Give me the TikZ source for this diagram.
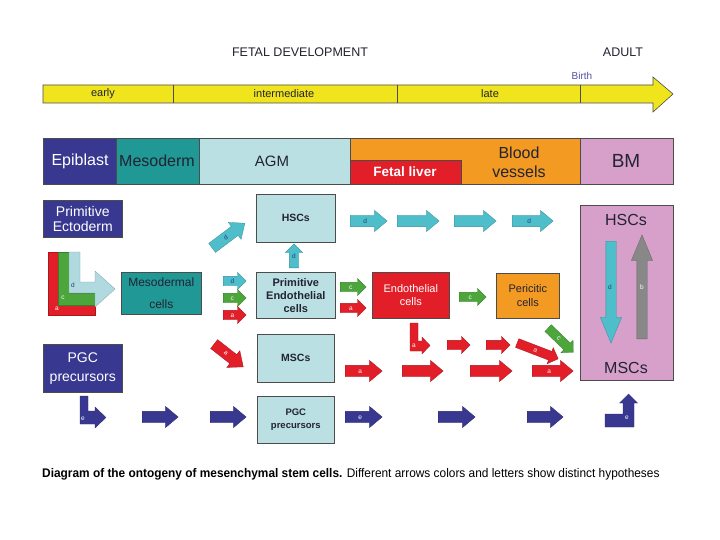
\documentclass[tikz,border=0pt]{standalone}
\usepackage{fontspec}
\setmainfont{Liberation Sans}
\newfontfamily\capfont[FakeStretch=0.95]{Liberation Sans}
\usetikzlibrary{shapes.arrows}
\definecolor{epiblue}{RGB}{56,56,145}
\definecolor{mesoteal}{RGB}{32,152,150}
\definecolor{agmblue}{RGB}{186,224,228}
\definecolor{lblue}{RGB}{176,218,224}
\definecolor{cyanarr}{RGB}{78,190,202}
\definecolor{redarr}{RGB}{226,30,40}
\definecolor{greenarr}{RGB}{76,166,60}
\definecolor{orangebox}{RGB}{242,154,34}
\definecolor{pinkbox}{RGB}{214,160,202}
\definecolor{grayarr}{RGB}{136,136,136}
\definecolor{timeyellow}{RGB}{240,228,28}
\definecolor{textdark}{RGB}{35,35,50}
\definecolor{letterblue}{RGB}{30,60,120}
\definecolor{birthblue}{RGB}{80,80,160}
\newcommand{\fs}[2]{\fontsize{#1}{#2}\selectfont}

\begin{document}
\begin{tikzpicture}[x=1pt,y=-1pt,
	box/.style={draw=black!70,line width=0.6pt,inner sep=1pt,align=center,anchor=north west,text=textdark},
	band/.style={draw=black!70,line width=0.6pt},
	blk/.style={single arrow,draw=#1!75!black,fill=#1,line width=0.3pt,single arrow head indent=0pt,inner xsep=1pt,text height=4pt,text depth=0pt,font=\fs{6.5}{7},text=white,anchor=tail},
	big/.style={inner ysep=3.5pt,single arrow head extend=5pt,single arrow tip angle=80},
	small/.style={inner ysep=2.5pt,single arrow head extend=4pt,single arrow tip angle=90},
	tall/.style={inner ysep=3pt,single arrow head extend=5.5pt,single arrow tip angle=45},
	lshape/.style={fill=#1,draw=#1!75!black,line width=0.3pt},
	lbl/.style={font=\fs{6.5}{7},inner sep=0pt}
	]
	\useasboundingbox (0,0) rectangle (720,540);
	\fill[white] (0,0) rectangle (720,540);

	\node[font=\fs{12.5}{14},text=textdark] (fetal) at (300,52) {FETAL DEVELOPMENT};
	\node[font=\fs{12.5}{14},text=textdark] (adult) at (623,52) {ADULT};
	\node[font=\fs{10}{12},text=birthblue] (birth) at (582,76) {Birth};
	\filldraw[fill=timeyellow,draw=black!70,line width=0.6pt] (43,85) -- (653,85) -- (653,77) -- (673,94) -- (653,112) -- (653,103) -- (43,103) -- cycle;
	\draw[black!70,line width=0.6pt] (173,85) -- (173,103) (397,85) -- (397,103) (580,85) -- (580,103);
	\node[font=\fs{11}{12},text=textdark] (early) at (103,94) {early};
	\node[font=\fs{11}{12},text=textdark] (inter) at (284,94) {intermediate};
	\node[font=\fs{11}{12},text=textdark] (late) at (490,94) {late};

	\filldraw[band,fill=epiblue] (43,138) rectangle (116,184);
	\filldraw[band,fill=mesoteal] (116,138) rectangle (199,184);
	\filldraw[band,fill=agmblue] (199,138) rectangle (350,184);
	\filldraw[band,fill=orangebox] (350,138) rectangle (580,184);
	\filldraw[band,fill=redarr] (350,160) rectangle (461,184);
	\filldraw[band,fill=pinkbox] (580,138) rectangle (673,184);
	\node[font=\fs{16}{18},text=white] (epi) at (80,161) {Epiblast};
	\node[font=\fs{16}{18},text=textdark] (meso) at (157,161) {Mesoderm};
	\node[font=\fs{15}{18},text=textdark] (agm) at (272,161) {AGM};
	\node[font=\bfseries\fs{13.5}{16},text=white] (liver) at (405,172) {Fetal liver};
	\node[font=\fs{16}{19},text=textdark,align=center] (blood) at (519,162) {Blood\\vessels};
	\node[font=\fs{19}{20},text=textdark] (bm) at (626,161) {BM};

	\node[box,fill=epiblue,text=white,minimum width=79,minimum height=37,font=\fs{14}{15}] (pecto) at (43,200) {Primitive\\Ectoderm};
	\node[box,fill=epiblue,text=white,minimum width=79,minimum height=48,font=\fs{14}{19}] (pgc) at (43,344) {PGC\\precursors};
	\node[box,fill=mesoteal,minimum width=80,minimum height=42,font=\fs{12}{22}] (mesoc) at (121,272) {Mesodermal\\cells};
	\node[box,fill=agmblue,minimum width=79,minimum height=48,font=\bfseries\fs{10.5}{12}] (hsc) at (256,194) {HSCs};
	\node[box,fill=agmblue,minimum width=79,minimum height=46,font=\bfseries\fs{11}{13}] (pendo) at (256,272) {Primitive\\Endothelial\\cells};
	\node[box,fill=agmblue,minimum width=77,minimum height=48,font=\bfseries\fs{10.5}{12}] (msc) at (257,334) {MSCs};
	\node[box,fill=agmblue,minimum width=77,minimum height=47,font=\bfseries\fs{9.5}{13}] (pgcb) at (257,396) {PGC\\precursors};
	\node[box,fill=redarr,text=white,minimum width=77,minimum height=46,font=\fs{11}{13}] (endo) at (372,272) {Endothelial\\cells};
	\node[box,fill=orangebox,minimum width=63,minimum height=45,font=\fs{11}{14}] (peri) at (496,273) {Pericitic\\cells};
	\node[box,fill=pinkbox,minimum width=93,minimum height=175] (bmbox) at (580,205) {};
	\node[font=\fs{16}{18},text=textdark] (bmhsc) at (626,220) {HSCs};
	\node[font=\fs{16}{18},text=textdark] (bmmsc) at (626,368) {MSCs};

	\filldraw[lshape=redarr] (48,252) -- (58,252) -- (58,305) -- (95,305) -- (95,315) -- (48,315) -- cycle;
	\filldraw[lshape=greenarr] (58,252) -- (69,252) -- (69,293) -- (95,293) -- (95,305) -- (58,305) -- cycle;
	\filldraw[lshape=lblue] (69,252) -- (80,252) -- (80,282) -- (95,282) -- (95,271) -- (115,289) -- (95,307) -- (95,293) -- (69,293) -- cycle;
	\node[lbl,text=letterblue] (ld) at (73,285) {d};
	\node[lbl,text=white] (lc) at (63,298) {c};
	\node[lbl,text=white] (la) at (57,309) {a};

	\node[blk=cyanarr,small,text=letterblue,minimum height=23] (md) at (223,281) {d};
	\node[blk=greenarr,small,minimum height=23] (mc) at (223,298) {c};
	\node[blk=redarr,small,minimum height=23] (ma) at (223,315) {a};
	\node[blk=cyanarr,big,text=letterblue,minimum height=41,rotate=37] (dd) at (212,248) {d};
	\node[blk=cyanarr,small,minimum height=24,rotate=90] (ud) at (294,268) {};
	\node[lbl,text=letterblue] (udl) at (294,256) {d};
	\node[blk=redarr,big,minimum height=37,rotate=-38] (da) at (214,344) {a};

	\node[blk=cyanarr,big,text=letterblue,minimum height=37] (h1) at (350,221) {d};
	\node[blk=cyanarr,big,minimum height=42] (h2) at (397,221) {};
	\node[blk=cyanarr,big,minimum height=42] (h3) at (454,221) {};
	\node[blk=cyanarr,big,text=letterblue,minimum height=41] (h4) at (512,221) {d};

	\node[blk=greenarr,small,minimum height=26] (pc) at (340,287) {c};
	\node[blk=redarr,small,minimum height=26] (pa) at (340,308) {a};
	\node[blk=greenarr,small,minimum height=27] (ec) at (459,297) {c};

	\filldraw[lshape=redarr] (410,323) -- (418,323) -- (418,341) -- (422,341) -- (422,337) -- (430,345.5) -- (422,354) -- (422,351) -- (410,351) -- cycle;
	\node[lbl,text=white] (ela) at (414,346) {a};
	\node[blk=redarr,small,minimum height=23] (r1) at (447,345) {};
	\node[blk=redarr,small,minimum height=24] (r2) at (486,345) {};
	\node[blk=redarr,small,minimum height=44,rotate=-21] (r3) at (517,343) {a};
	\node[blk=greenarr,small,minimum height=35,rotate=-44] (gc) at (548,328) {c};

	\node[blk=redarr,big,minimum height=37] (a1) at (345,371) {a};
	\node[blk=redarr,big,minimum height=41] (a2) at (402,371) {};
	\node[blk=redarr,big,minimum height=42] (a3) at (470,371) {};
	\node[blk=redarr,big,minimum height=41] (a4) at (532,371) {a};

	\filldraw[lshape=epiblue] (80,396) -- (88,396) -- (88,411) -- (95,411) -- (95,407) -- (106,417.5) -- (95,428) -- (95,424) -- (80,424) -- cycle;
	\node[lbl,text=white] (ebl) at (83,419) {e};
	\node[blk=epiblue,big,minimum height=36] (e1) at (142,417) {};
	\node[blk=epiblue,big,minimum height=36] (e2) at (210,417) {};
	\node[blk=epiblue,big,minimum height=37] (e3) at (345,417) {e};
	\node[blk=epiblue,big,minimum height=37] (e4) at (438,417) {};
	\node[blk=epiblue,big,minimum height=36] (e5) at (527,417) {};
	\filldraw[lshape=epiblue] (605,414) -- (623,414) -- (623,403) -- (619.5,403) -- (628.5,394) -- (637.5,403) -- (634,403) -- (634,427) -- (605,427) -- cycle;
	\node[lbl,text=white] (ebr) at (627,418) {e};

	\node[blk=cyanarr,tall,minimum height=102,rotate=-90] (bmd) at (611,241) {};
	\node[lbl,text=letterblue] (bmdl) at (610,287) {d};
	\node[blk=grayarr,tall,minimum height=104,rotate=90] (bmb) at (642,339) {};
	\node[lbl,text=white] (bmbl) at (642,287) {b};

	\node[anchor=west,font=\capfont\fs{12.5}{14},text=black,inner sep=0pt] (cap) at (42,474) {\textbf{Diagram of the ontogeny of mesenchymal stem cells.} Different arrows colors and letters show distinct hypotheses};
\end{tikzpicture}
\end{document}
